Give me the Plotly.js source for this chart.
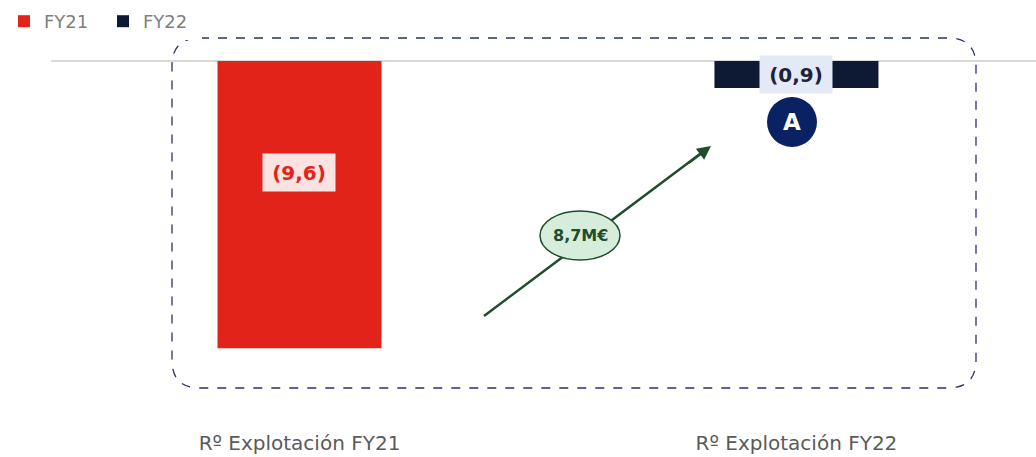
<!DOCTYPE html>
<html>
<head>
<meta charset="utf-8">
<script src="https://cdn.plot.ly/plotly-3.0.1.min.js"></script>
<style>
  body { margin: 0; background: #fff; }
  #chart { width: 1036px; height: 457px; }
</style>
</head>
<body>
<div id="chart"></div>
<script>
const categories = ['Rº Explotación FY21', 'Rº Explotación FY22']
const fy21 = [-9.6, null]
const fy22 = [null, -0.9]
const valueLabels = ['(9,6)', '(0,9)']
const variation = '8,7M€'
const badge = 'A'

// plot box in pixels, used to place the decorations
const L = 51, W = 985, T = 52, H = 356
const px = x => (x - L) / W
const py = y => (T + H - y) / H

const font = '"DejaVu Sans", "Open Sans", sans-serif'
const green = '#1f4d2e'

// rounded dashed frame
function roundRect(x0, y0, x1, y1, r) {
    const p = (x, y) => px(x) + ',' + py(y)
    return 'M' + p(x0 + r, y0) + ' L' + p(x1 - r, y0) + ' Q' + p(x1, y0) + ' ' + p(x1, y0 + r) +
        ' L' + p(x1, y1 - r) + ' Q' + p(x1, y1) + ' ' + p(x1 - r, y1) +
        ' L' + p(x0 + r, y1) + ' Q' + p(x0, y1) + ' ' + p(x0, y1 - r) +
        ' L' + p(x0, y0 + r) + ' Q' + p(x0, y0) + ' ' + p(x0 + r, y0) + ' Z'
}

const data = [
    {
        type: 'bar', name: 'FY21', x: categories, y: fy21, width: 0.33,
        marker: { color: '#e2231a' }, hoverinfo: 'skip'
    },
    {
        type: 'bar', name: 'FY22', x: categories, y: fy22, width: 0.33,
        marker: { color: '#0e1a33' }, hoverinfo: 'skip'
    }
]

const layout = {
    width: 1036,
    height: 457,
    margin: { l: L, r: 1036 - L - W, t: T, b: 457 - T - H, pad: 0 },
    paper_bgcolor: '#fff',
    plot_bgcolor: '#fff',
    barmode: 'overlay',
    showlegend: true,
    legend: {
        orientation: 'h', x: px(4), xanchor: 'left', y: py(3), yanchor: 'top',
        font: { family: font, size: 18, color: '#808080' },
        entrywidth: 54, entrywidthmode: 'pixels',
        traceorder: 'normal', itemclick: false
    },
    xaxis: {
        type: 'category', range: [-0.5, 1.482],
        showgrid: false, zeroline: false, showline: false, ticks: '',
        ticklabelstandoff: 21,
        tickfont: { family: font, size: 20, color: '#5a5a5a' }
    },
    yaxis: {
        range: [-11.6, 0.3],
        showgrid: false, showticklabels: false, ticks: '', showline: false,
        zeroline: true, zerolinecolor: '#d9d9d9', zerolinewidth: 2
    },
    shapes: [
        {
            type: 'path', xref: 'paper', yref: 'paper', layer: 'above',
            path: roundRect(172, 38, 976, 388, 28),
            line: { color: '#27336a', width: 1.3, dash: 'dash' }
        },
        {
            type: 'line', xref: 'paper', yref: 'paper', layer: 'above',
            x0: px(484), y0: py(316), x1: px(700), y1: py(154),
            line: { color: green, width: 2.5 }
        },
        {
            type: 'circle', xref: 'paper', yref: 'paper', layer: 'above',
            x0: px(540), y0: py(211), x1: px(620), y1: py(260),
            fillcolor: '#d6eddb', line: { color: green, width: 1.5 }
        },
        {
            type: 'circle', xref: 'paper', yref: 'paper', layer: 'above',
            x0: px(767), y0: py(97), x1: px(817), y1: py(147),
            fillcolor: '#0a2263', line: { width: 0 }
        }
    ],
    annotations: [
        {
            x: categories[0], y: fy21[0] * 0.39, text: '<b>' + valueLabels[0] + '</b>',
            showarrow: false, bgcolor: '#fbe3e2', borderpad: 5, width: 62, height: 27,
            xanchor: 'center', yanchor: 'middle',
            font: { family: font, size: 20, color: '#e2231a' }
        },
        {
            x: categories[1], y: fy22[1] / 2, text: '<b>' + valueLabels[1] + '</b>',
            showarrow: false, bgcolor: '#e3e9f6', borderpad: 5, width: 62, height: 27,
            xanchor: 'center', yanchor: 'middle',
            font: { family: font, size: 20, color: '#1c2237' }
        },
        {
            xref: 'paper', yref: 'paper', x: px(792), y: py(122), text: '<b>' + badge + '</b>',
            xanchor: 'center', yanchor: 'middle',
            showarrow: false, font: { family: font, size: 23, color: '#fff' }
        },
        {
            xref: 'paper', yref: 'paper', x: px(580), y: py(236), text: '<b>' + variation + '</b>',
            xanchor: 'center', yanchor: 'middle',
            showarrow: false, font: { family: font, size: 16, color: green }
        },
        {
            // arrow head
            xref: 'paper', yref: 'paper', x: px(711), y: py(146), text: '',
            showarrow: true, arrowhead: 2, arrowsize: 1.1, arrowwidth: 2.5, arrowcolor: green,
            ax: -24, ay: 18
        }
    ]
}

Plotly.newPlot('chart', data, layout, { displayModeBar: false, staticPlot: true })
</script>
</body>
</html>
